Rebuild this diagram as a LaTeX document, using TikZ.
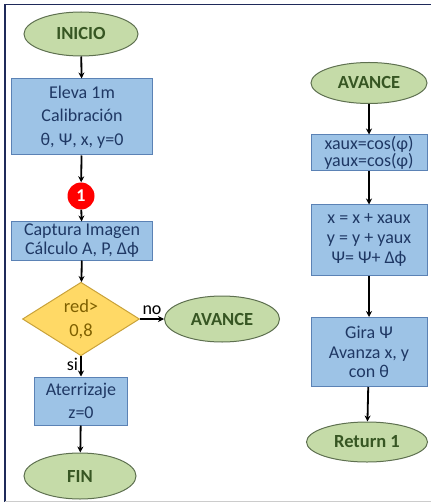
\documentclass[tikz,border=0pt]{standalone}
\usepackage{fontspec}
\setmainfont{Carlito}
\usetikzlibrary{shapes.geometric,arrows.meta}
\definecolor{boxfill}{HTML}{9DC3E6}
\definecolor{boxline}{HTML}{5B82B5}
\definecolor{boxtext}{HTML}{1F3864}
\definecolor{elfill}{HTML}{C5DBA8}
\definecolor{elline}{HTML}{5E7050}
\definecolor{eltext}{HTML}{375623}
\definecolor{dmfill}{HTML}{FFD966}
\definecolor{dmline}{HTML}{C9A23A}
\definecolor{dmtext}{HTML}{7F6000}
\definecolor{frame}{HTML}{1F2A5A}
\tikzset{
  procbox/.style={draw=boxline, fill=boxfill, line width=1pt, text=boxtext, align=center, inner sep=0pt, font=\fontsize{18}{23.5}\selectfont},
  tight/.style={font=\fontsize{18}{19}\selectfont},
  term/.style={ellipse, draw=elline, fill=elfill, line width=1pt, text=eltext, inner sep=0pt, font=\fontsize{18.5}{23.5}\selectfont\bfseries},
  decis/.style={diamond, draw=dmline, fill=dmfill, line width=1pt, text=dmtext, align=center, inner sep=0pt, font=\fontsize{18.5}{24}\selectfont},
  conn/.style={circle, fill=red, text=white, inner sep=0pt, minimum size=27pt, font=\fontsize{18}{20}\selectfont\bfseries},
  arr/.style={-{Stealth[length=6pt,width=6pt]}, line width=1.8pt, black},
  lbl/.style={text=black, inner sep=0pt, font=\fontsize{18}{20}\selectfont}
}
\begin{document}
\begin{tikzpicture}[x=1pt,y=-1pt]
\useasboundingbox (0,0) rectangle (431,502);
\draw[frame, line width=1.5pt] (5,502) -- (5,4.5) -- (431,4.5);
\draw[gray!40, line width=1pt] (5,501) -- (431,501);
% left column
\node[term, minimum width=114pt, minimum height=44pt] (inicio) at (81,34) {INICIO};
\node[procbox, minimum width=141pt, minimum height=76pt] (eleva) at (82,117) {Eleva 1m\\Calibración\\θ, Ψ, x, y=0};
\node[conn] (c1) at (81,196) {1};
\node[procbox, tight, minimum width=141pt, minimum height=38pt] (captura) at (82,241) {Captura Imagen\\Cálculo A, P, Δϕ};
\node[decis, minimum width=117pt, minimum height=58pt] (red) at (81,319) {red>\\0,8};
\node[term, minimum width=115pt, minimum height=46pt] (avl) at (222,319) {AVANCE};
\node[procbox, minimum width=93pt, minimum height=48pt] (aterr) at (81,401) {Aterrizaje\\z=0};
\node[term, minimum width=112pt, minimum height=46pt] (fin) at (80,476) {FIN};
% right column
\node[term, minimum width=116pt, minimum height=41pt] (avr) at (369,83) {AVANCE};
\node[procbox, font=\fontsize{18}{17.5}\selectfont, minimum width=116pt, minimum height=36pt] (aux) at (369,153) {xaux=cos(φ)\\yaux=cos(φ)};
\node[procbox, font=\fontsize{18}{20}\selectfont, minimum width=116pt, minimum height=70pt] (upd) at (369,240) {x = x + xaux\\y = y + yaux\\Ψ= Ψ+ Δϕ};
\node[procbox, font=\fontsize{18}{19.5}\selectfont, minimum width=116pt, minimum height=69pt] (gira) at (369,352) {Gira Ψ\\Avanza x, y\\con θ};
\node[term, minimum width=121pt, minimum height=40pt] (ret) at (367,442) {Return 1};
% connectors
\draw[arr] (inicio) -- (eleva);
\draw[arr] (eleva) -- (c1);
\draw[arr] (c1) -- (captura);
\draw[arr] (captura) -- (red);
\draw[arr] (red) -- node[lbl, above=3pt] {no} (avl);
\draw[arr] (red) -- node[lbl, left=2pt, pos=0.4] {si} (aterr);
\draw[arr] (aterr) -- (fin);
\draw[arr] (avr) -- (aux);
\draw[arr] (aux) -- (upd);
\draw[arr] (upd) -- (gira);
\draw[arr] (gira) -- (ret);
\end{tikzpicture}
\end{document}
